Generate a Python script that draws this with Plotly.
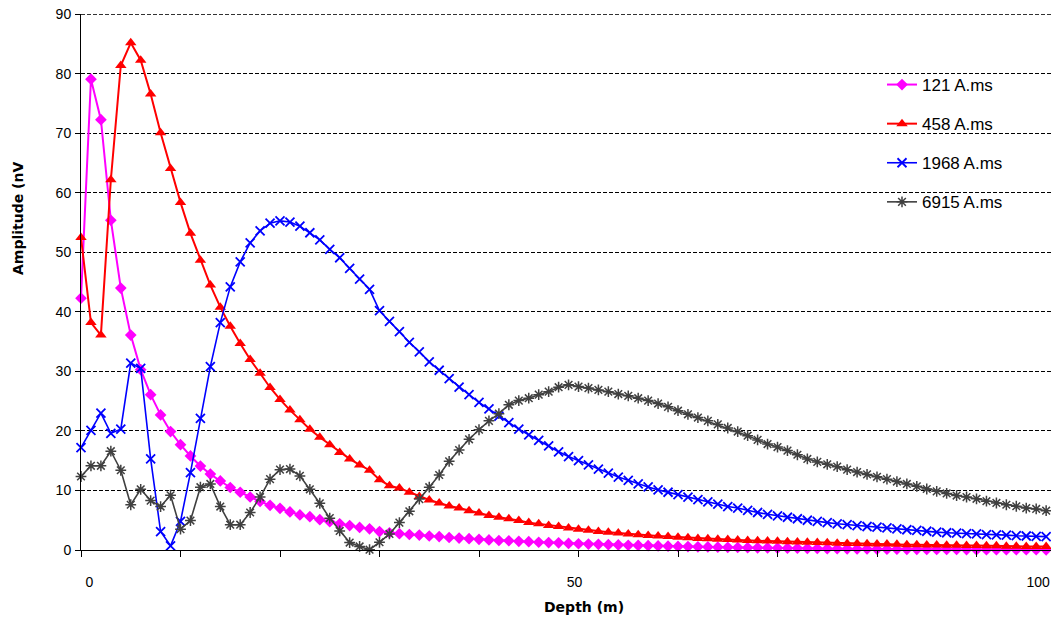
import plotly.graph_objects as go

# ---- data ----
sample_index = list(range(98))

amp_121 = [42.3, 79.1, 72.3, 55.4, 44.0, 36.1, 30.3, 26.1, 22.7, 19.9,
           17.7, 15.8, 14.1, 12.75, 11.6, 10.5, 9.7, 8.9, 8.15, 7.5,
           7.0, 6.4, 5.9, 5.6, 5.1, 4.75, 4.4, 4.1, 3.8, 3.55,
           3.1, 2.9, 2.75, 2.6, 2.5, 2.35, 2.25, 2.1, 2.0, 1.9,
           1.8, 1.7, 1.6, 1.55, 1.45, 1.4, 1.3, 1.25, 1.2, 1.1,
           1.05, 1.0, 0.95, 0.9, 0.85, 0.8, 0.77, 0.72, 0.68, 0.64,
           0.6, 0.57, 0.54, 0.51, 0.48, 0.45, 0.42, 0.39, 0.37, 0.35,
           0.33, 0.31, 0.29, 0.27, 0.25, 0.23, 0.21, 0.2, 0.18, 0.17,
           0.15, 0.14, 0.13, 0.12, 0.11, 0.1, 0.09, 0.08, 0.08, 0.07,
           0.06, 0.06, 0.05, 0.05, 0.04, 0.04, 0.04, 0.03]

amp_458 = [52.5, 38.2, 36.1, 62.2, 81.4, 85.2, 82.3, 76.6, 70.1, 64.1,
           58.4, 53.2, 48.7, 44.5, 40.8, 37.6, 34.7, 32.0, 29.7, 27.3,
           25.3, 23.5, 21.9, 20.3, 18.95, 17.7, 16.4, 15.3, 14.3, 13.4,
           11.8, 10.8, 10.4, 9.7, 9.0, 8.4, 7.9, 7.4, 7.05, 6.6,
           6.2, 5.8, 5.5, 5.25, 4.95, 4.6, 4.4, 4.1, 3.95, 3.7,
           3.5, 3.3, 3.1, 3.0, 2.85, 2.7, 2.55, 2.45, 2.35, 2.25,
           2.15, 2.05, 1.95, 1.9, 1.8, 1.75, 1.7, 1.6, 1.55, 1.5,
           1.45, 1.4, 1.35, 1.3, 1.25, 1.2, 1.15, 1.1, 1.1, 1.05,
           1.0, 1.0, 0.95, 0.9, 0.9, 0.85, 0.85, 0.8, 0.8, 0.75,
           0.75, 0.7, 0.7, 0.65, 0.65, 0.6, 0.6, 0.6]

amp_1968 = [17.2, 20.1, 23.0, 19.6, 20.3, 31.4, 30.5, 15.3, 3.1, 0.7,
            4.8, 13.0, 22.1, 30.8, 38.2, 44.2, 48.4, 51.6, 53.6, 54.9,
            55.3, 55.1, 54.4, 53.3, 52.1, 50.5, 49.1, 47.3, 45.5, 43.8,
            40.2, 38.4, 36.7, 34.9, 33.3, 31.6, 30.2, 28.8, 27.35, 26.1,
            24.8, 23.7, 22.5, 21.4, 20.3, 19.35, 18.4, 17.5, 16.5, 15.7,
            15.0, 14.3, 13.6, 12.9, 12.25, 11.7, 11.1, 10.6, 10.1, 9.7,
            9.3, 8.9, 8.45, 8.1, 7.7, 7.3, 7.05, 6.65, 6.3, 6.0,
            5.75, 5.5, 5.25, 5.0, 4.8, 4.6, 4.4, 4.25, 4.1, 3.95,
            3.85, 3.7, 3.55, 3.4, 3.3, 3.15, 3.0, 2.9, 2.85, 2.75,
            2.7, 2.6, 2.55, 2.5, 2.4, 2.35, 2.3, 2.25]

amp_6915 = [12.35, 14.15, 14.15, 16.6, 13.4, 7.6, 10.2, 8.3, 7.3, 9.2,
            3.5, 4.95, 10.55, 11.1, 7.3, 4.25, 4.25, 6.3, 8.9, 11.9,
            13.5, 13.6, 12.45, 10.2, 7.85, 5.35, 3.2, 1.25, 0.6, 0.05,
            1.3, 2.7, 4.6, 6.5, 8.55, 10.55, 12.6, 14.9, 16.8, 18.6,
            20.2, 21.7, 22.9, 24.4, 25.1, 25.5, 26.1, 26.6, 27.35, 27.75,
            27.45, 27.2, 26.9, 26.6, 26.2, 25.9, 25.5, 25.1, 24.6, 24.05,
            23.4, 22.8, 22.25, 21.7, 21.1, 20.5, 19.9, 19.2, 18.5, 17.8,
            17.3, 16.7, 16.0, 15.3, 14.8, 14.4, 14.0, 13.5, 13.1, 12.7,
            12.3, 11.9, 11.5, 11.1, 10.7, 10.25, 9.85, 9.5, 9.15, 8.9,
            8.6, 8.2, 7.9, 7.6, 7.35, 7.05, 6.9, 6.6]

series_names = ["121 A.ms", "458 A.ms", "1968 A.ms", "6915 A.ms"]
depth_tick_labels = ["0", "50", "100"]
amp_ticks = [0, 10, 20, 30, 40, 50, 60, 70, 80, 90]

# ---- layout geometry (page pixels; body margin removed by post_script) ----
W, H = 1051, 618
PLOT_L, PLOT_R, PLOT_T, PLOT_B = 81, 1051, 14, 550   # page coords of the plot area
ML, MT = PLOT_L, PLOT_T
MB = H - PLOT_B
MR = 0
px_per_sample = 9.95
x_max = (PLOT_R - PLOT_L) / px_per_sample
label_pos = [0.85, 49.6, 96.2]
y_max = amp_ticks[-1]


def paper_x(xp):
    return (xp - PLOT_L) / (PLOT_R - PLOT_L)


def paper_y(yp):
    return (PLOT_B - yp) / (PLOT_B - PLOT_T)


styles = [
    dict(color="#FF00FF", symbol="diamond", size=9, lw=2, mlw=0),
    dict(color="#FF0000", symbol="triangle-up", size=10, lw=2, mlw=0),
    dict(color="#0000FF", symbol="x-thin", size=9, lw=1.6, mlw=1.8),
    dict(color="#404040", symbol="asterisk", size=9, lw=1.6, mlw=1.5),
]

fig = go.Figure()
for name, ys, st, grp in zip(series_names, [amp_121, amp_458, amp_1968, amp_6915],
                             styles, ["a", "b", "c", "d"]):
    fig.add_trace(go.Scatter(
        x=sample_index, y=ys, name=name, mode="lines+markers",
        legendgroup=grp, cliponaxis=False,
        line=dict(color=st["color"], width=st["lw"]),
        marker=dict(symbol=st["symbol"], size=st["size"], color=st["color"],
                    line=dict(color=st["color"], width=st["mlw"])),
    ))

# invisible trace on the label axis
fig.add_trace(go.Scatter(x=[0], y=[0], xaxis="x2", showlegend=False,
                         mode="markers", marker=dict(opacity=0), hoverinfo="skip"))

fig.update_layout(
    template="none",
    width=W, height=H,
    margin=dict(l=ML, r=MR, t=MT, b=MB, pad=0, autoexpand=False),
    paper_bgcolor="white", plot_bgcolor="white",
    font=dict(family="Liberation Sans, Arial, sans-serif", size=14, color="black"),
    showlegend=True,
    legend=dict(
        x=paper_x(882), y=paper_y(67),
        xanchor="left", yanchor="top",
        bgcolor="rgba(255,255,255,0)", borderwidth=0,
        font=dict(size=17, family="Liberation Sans, Arial, sans-serif"),
        tracegroupgap=14, itemwidth=30,
    ),
    xaxis=dict(
        range=[0, x_max], showgrid=False, zeroline=False, automargin=False,
        showline=True, linecolor="black", linewidth=1,
        tickmode="array", tickvals=list(range(0, 100, 10)),
        ticks="outside", ticklen=6, tickcolor="black", tickwidth=1,
        showticklabels=False,
    ),
    xaxis2=dict(
        overlaying="x", side="bottom", anchor="y", range=[0, x_max],
        showgrid=False, zeroline=False, showline=False, automargin=False,
        tickmode="array", tickvals=label_pos, ticktext=depth_tick_labels,
        ticks="outside", ticklen=19, tickcolor="rgba(0,0,0,0)",
        tickfont=dict(size=14), ticklabeloverflow="allow",
    ),
    yaxis=dict(
        range=[0, 90.05], tickmode="array", tickvals=amp_ticks, automargin=False,
        showgrid=True, gridcolor="black", gridwidth=1, griddash="4px,2px",
        zeroline=False, showline=True, linecolor="black", linewidth=1,
        ticks="outside", ticklen=5, tickcolor="black",
        tickfont=dict(size=14), ticklabelstandoff=1, ticklabeloverflow="allow",
    ),
    shapes=[
        dict(type="rect", xref="paper", yref="y", layer="between",
             x0=paper_x(838), x1=1.02, y0=55, y1=85,
             fillcolor="white", line=dict(width=0)),
        # top gridline (plotly skips the grid line at the very edge)
        dict(type="line", xref="paper", yref="y", layer="between",
             x0=0, x1=1, y0=y_max, y1=y_max,
             line=dict(color="black", width=1, dash="4px,2px")),
    ],
    annotations=[
        dict(text="<b>Amplitude (nV</b>", textangle=-90, xref="paper", yref="paper",
             x=paper_x(18), y=paper_y(218),
             xanchor="center", yanchor="middle", showarrow=False,
             font=dict(size=14, family="DejaVu Sans, sans-serif")),
        dict(text="<b>Depth (m)</b>", xref="paper", yref="paper",
             x=paper_x(584), y=paper_y(607),
             xanchor="center", yanchor="middle", showarrow=False,
             font=dict(size=14, family="DejaVu Sans, sans-serif")),
    ],
)

fig.write_html("out.html",
               config={"displayModeBar": False},
               post_script="document.body.style.margin='0';"
                           "document.body.style.overflow='hidden';")
